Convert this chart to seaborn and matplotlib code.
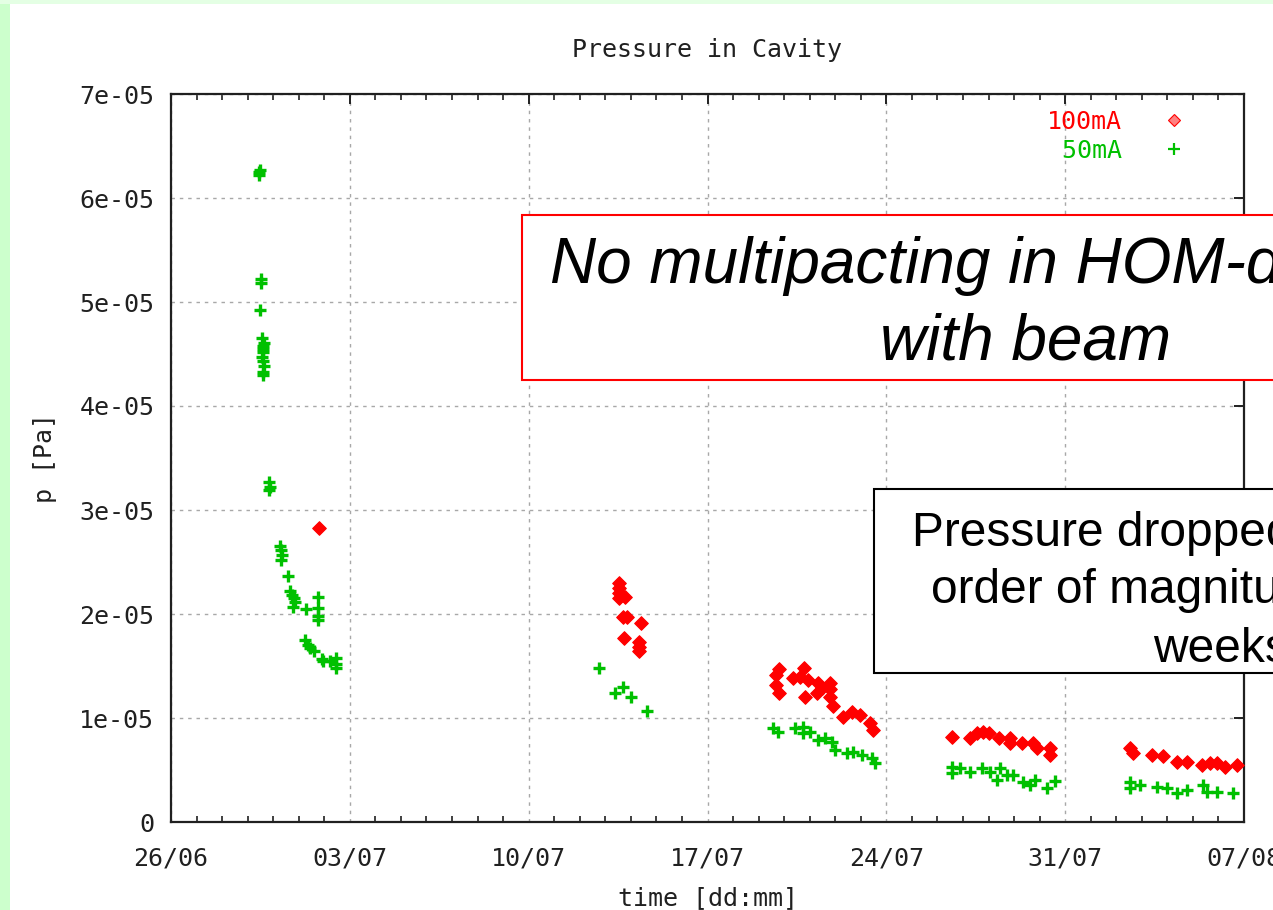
import numpy as np
import pandas as pd
import matplotlib
matplotlib.use("Agg")
import matplotlib.pyplot as plt
import seaborn as sns
from matplotlib.patches import Rectangle
from matplotlib.lines import Line2D

# ---------------- data (x: days since 26/06, p in units of 1e-5 Pa) ----------------
day_50 = [3.45, 3.45, 3.47, 3.52, 3.52, 3.50, 3.58, 3.60, 3.62, 3.58, 3.60, 3.64, 3.62, 3.60,
          3.63, 3.61, 3.84, 3.86, 3.82, 4.27, 4.30, 4.35, 4.32, 4.58, 4.66, 4.72, 4.80, 4.85,
          4.78, 5.29, 5.76, 5.76, 5.76, 5.76, 5.25, 5.35, 5.45, 5.60, 5.91, 5.95, 6.22, 6.46,
          6.46, 6.46,
          16.76, 17.38, 17.70, 18.01, 18.64,
          23.57, 23.77, 24.43, 24.75, 24.75, 25.02, 25.33, 25.61, 25.88, 26.00, 26.47, 26.70,
          27.06, 27.45, 27.57,
          30.58, 30.58, 30.89, 31.28, 31.75, 32.07, 32.34, 32.46, 32.73, 32.97, 33.36, 33.63,
          33.83, 34.30, 34.61,
          37.55, 37.55, 37.94, 38.61, 39.00, 39.39, 39.78, 40.41, 40.56, 40.96, 41.58]
p_50 = [6.22, 6.25, 6.27, 5.22, 5.18, 4.92, 4.65, 4.58, 4.52, 4.47, 4.43, 4.38, 4.33, 4.30,
        4.61, 4.55, 3.27, 3.22, 3.19, 2.65, 2.62, 2.57, 2.52, 2.37, 2.22, 2.18, 2.15, 2.12,
        2.07, 2.05, 2.16, 2.06, 1.98, 1.94, 1.75, 1.70, 1.67, 1.64, 1.57, 1.55, 1.55, 1.58,
        1.52, 1.48,
        1.48, 1.24, 1.30, 1.20, 1.07,
        0.90, 0.87, 0.90, 0.91, 0.86, 0.87, 0.79, 0.81, 0.77, 0.69, 0.66, 0.67,
        0.64, 0.62, 0.57,
        0.53, 0.47, 0.52, 0.48, 0.52, 0.48, 0.40, 0.52, 0.45, 0.45, 0.38, 0.36,
        0.40, 0.33, 0.39,
        0.38, 0.33, 0.36, 0.34, 0.33, 0.28, 0.31, 0.36, 0.29, 0.29, 0.28]

day_100 = [5.79,
           17.54, 17.54, 17.54, 17.54, 17.78, 17.85, 17.70, 18.40, 17.72, 18.32, 18.32, 18.32,
           23.81, 23.69, 23.69, 23.81, 24.35, 24.78, 24.63, 24.94, 24.82, 25.33, 25.29, 25.50,
           25.80, 25.80, 25.80, 25.92, 26.31, 26.66, 26.98, 27.37, 27.49,
           30.58, 31.28, 31.56, 31.80, 32.00, 32.40, 32.85, 32.85, 33.32, 33.75, 33.90, 34.42,
           34.42,
           37.55, 37.67, 38.41, 38.84, 39.39, 39.78, 40.37, 40.68, 40.96, 41.27, 41.74]
p_100 = [2.83,
         2.30, 2.25, 2.20, 2.15, 2.16, 1.97, 1.97, 1.91, 1.77, 1.73, 1.68, 1.64,
         1.47, 1.41, 1.32, 1.24, 1.38, 1.48, 1.39, 1.37, 1.20, 1.34, 1.24, 1.29,
         1.34, 1.28, 1.20, 1.12, 1.01, 1.06, 1.03, 0.95, 0.88,
         0.82, 0.81, 0.86, 0.87, 0.86, 0.81, 0.81, 0.76, 0.76, 0.76, 0.71, 0.71,
         0.64,
         0.71, 0.66, 0.64, 0.63, 0.58, 0.58, 0.55, 0.57, 0.57, 0.53, 0.55]

series_labels = ["100mA", " 50mA"]
x_tick_days = [0, 7, 14, 21, 28, 35, 42]
x_tick_labels = ["26/06", "03/07", "10/07", "17/07", "24/07", "31/07", "07/08"]
y_ticks = [0, 1e-5, 2e-5, 3e-5, 4e-5, 5e-5, 6e-5, 7e-5]
y_tick_labels = ["0", "1e-05", "2e-05", "3e-05", "4e-05", "5e-05", "6e-05", "7e-05"]

title = "Pressure in Cavity"
xlabel = "time [dd:mm]"
ylabel = "p [Pa]"
box1_line1 = "No multipacting in HOM-dampers"
box1_line2 = "with beam"
box2_lines = ["Pressure dropped by one", "order of magnitude in two", "weeks"]

# ---------------- styling ----------------
RED = "#ff0000"
GREEN = "#00c000"
mono = "DejaVu Sans Mono"

sns.set_theme(style="white")
plt.rcParams["font.family"] = [mono]

W, H = 1273, 910
fig = plt.figure(figsize=(W / 100, H / 100), dpi=100, facecolor="white")

# slide background bands
fig.patches.append(Rectangle((0, 0), 10 / W, 1, transform=fig.transFigure,
                             facecolor="#ccffcc", edgecolor="none", zorder=0))
fig.patches.append(Rectangle((0, 1 - 4 / H), 1, 4 / H, transform=fig.transFigure,
                             facecolor="#e4ffe4", edgecolor="none", zorder=0))

L, R, T, B = 171, 1244, 94, 822
ax = fig.add_axes([L / W, (H - B) / H, (R - L) / W, (B - T) / H])
ax.set_facecolor("white")

df50 = pd.DataFrame({"day": day_50, "p": np.array(p_50) * 1e-5})
df100 = pd.DataFrame({"day": day_100, "p": np.array(p_100) * 1e-5})

sns.scatterplot(data=df100, x="day", y="p", ax=ax, marker="D", s=48,
                color=RED, edgecolor=RED, linewidth=0.8, legend=False, zorder=3)
sns.scatterplot(data=df50, x="day", y="p", ax=ax, marker="+", s=85,
                color=GREEN, linewidth=2.4, legend=False, zorder=3)

ax.set_xlim(0, 42)
ax.set_ylim(0, 7e-5)
ax.set_xticks(x_tick_days)
ax.set_xticklabels(x_tick_labels)
ax.set_xticks(np.arange(0, 43, 1), minor=True)
ax.set_yticks(y_ticks)
ax.set_yticklabels(y_tick_labels)

ax.grid(True, which="major", color="#a8a8a8", linestyle=(0, (2.5, 3.5)), linewidth=1.0)
ax.set_axisbelow(True)

for s in ax.spines.values():
    s.set_color("#202020")
    s.set_linewidth(1.6)

ax.tick_params(axis="both", which="major", direction="in", length=7, width=1.4,
               top=True, right=True, colors="#202020", labelsize=18)
ax.tick_params(axis="x", which="major", pad=18)
ax.tick_params(axis="y", which="major", pad=12)
ax.tick_params(axis="x", which="minor", direction="in", length=4, width=1.2,
               top=True, bottom=True, colors="#202020")
ax.tick_params(axis="y", which="minor", left=False, right=False)

ax.set_title(title, fontsize=18, color="#202020", pad=27, family=mono)
ax.set_xlabel(xlabel, fontsize=18, color="#202020", family=mono)
ax.set_ylabel(ylabel, fontsize=18, color="#202020", family=mono)
ax.xaxis.set_label_coords(0.5, -(898 - B) / (B - T))
ax.yaxis.set_label_coords((45 - L) / (R - L), 0.5)
ax.xaxis.label.set_va("center")
ax.yaxis.label.set_va("center")

# legend (monospace labels, marker after text)
handles = [Line2D([], [], marker="D", linestyle="none", markersize=6,
                  markerfacecolor="#ff8080", markeredgecolor=RED, markeredgewidth=0.8),
           Line2D([], [], marker="+", linestyle="none", markersize=8,
                  markeredgecolor=GREEN, markeredgewidth=1.6)]
leg = ax.legend(handles, series_labels, loc="upper right", markerfirst=False,
                frameon=False, fontsize=18, handlelength=1.0, handletextpad=1.55,
                labelspacing=0.18, bbox_to_anchor=(1 - 48 / (R - L), 1 - 6 / (B - T)),
                borderaxespad=0, prop={"family": mono, "size": 18})
leg.get_texts()[0].set_color(RED)
leg.get_texts()[1].set_color(GREEN)

# overlay text boxes (slide annotations)
fig.patches.append(Rectangle((522 / W, (H - 380) / H), 900 / W, 165 / H,
                             transform=fig.transFigure, facecolor="white",
                             edgecolor=RED, linewidth=1.5, zorder=5))
fig.text(550 / W, (H - 283) / H, box1_line1, fontsize=46, style="italic",
         family="Liberation Sans", color="black", ha="left", va="baseline", zorder=6)
fig.text(880 / W, (H - 360) / H, box1_line2, fontsize=46, style="italic",
         family="Liberation Sans", color="black", ha="left", va="baseline", zorder=6)

fig.patches.append(Rectangle((874 / W, (H - 673) / H), 600 / W, 184 / H,
                             transform=fig.transFigure, facecolor="white",
                             edgecolor="black", linewidth=1.5, zorder=5))
for txt, xl, yb in zip(box2_lines, [912, 931, 1153], [546, 603, 662]):
    fig.text(xl / W, (H - yb) / H, txt, fontsize=34.5, family="Liberation Sans",
             color="black", ha="left", va="baseline", zorder=6)

fig.savefig("out.png", dpi=100, facecolor="white")
